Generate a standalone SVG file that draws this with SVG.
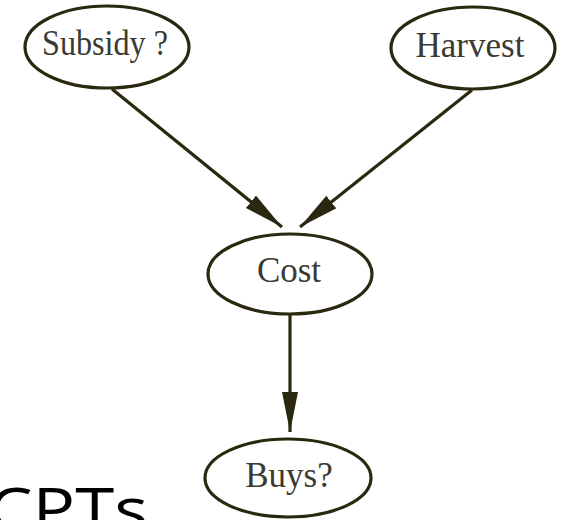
<svg xmlns="http://www.w3.org/2000/svg" width="561" height="520" viewBox="0 0 561 520">
<style>
.node ellipse{fill:#fff;stroke:#2b2810;stroke-width:3.2}
.node text{font-family:"Liberation Serif",serif;font-size:35px;fill:#3a3a32;text-anchor:middle}
.edge{stroke:#2b2810;stroke-width:3.2;fill:none}
</style>
<defs>
<marker id="ah" markerUnits="userSpaceOnUse" markerWidth="42" markerHeight="18" refX="40" refY="8" orient="auto">
<path d="M0,0 L40,8 L0,16 Z" fill="#2b2810"/>
</marker>
</defs>
<rect width="561" height="520" fill="#fff"/>
<g id="connectors">
<line class="edge" x1="112" y1="89" x2="282" y2="227" marker-end="url(#ah)"/>
<line class="edge" x1="472" y1="90" x2="300" y2="227" marker-end="url(#ah)"/>
<line class="edge" x1="290" y1="315" x2="290" y2="432" marker-end="url(#ah)"/>
</g>
<g id="subsidy" class="node">
<ellipse cx="107" cy="47" rx="82" ry="41"/>
<text x="105" y="55" textLength="126" lengthAdjust="spacingAndGlyphs">Subsidy ?</text>
</g>
<g id="harvest" class="node">
<ellipse cx="473" cy="48" rx="82" ry="41"/>
<text x="470" y="57">Harvest</text>
</g>
<g id="cost" class="node">
<ellipse cx="290" cy="274" rx="82" ry="40"/>
<text x="289" y="282">Cost</text>
</g>
<g id="buys" class="node">
<ellipse cx="288" cy="478" rx="83" ry="39"/>
<text x="289" y="487">Buys?</text>
</g>
<text x="-12" y="531" font-family="'Open Sans',sans-serif" font-size="60" fill="#000" textLength="160" lengthAdjust="spacingAndGlyphs">CPTs</text>
</svg>
